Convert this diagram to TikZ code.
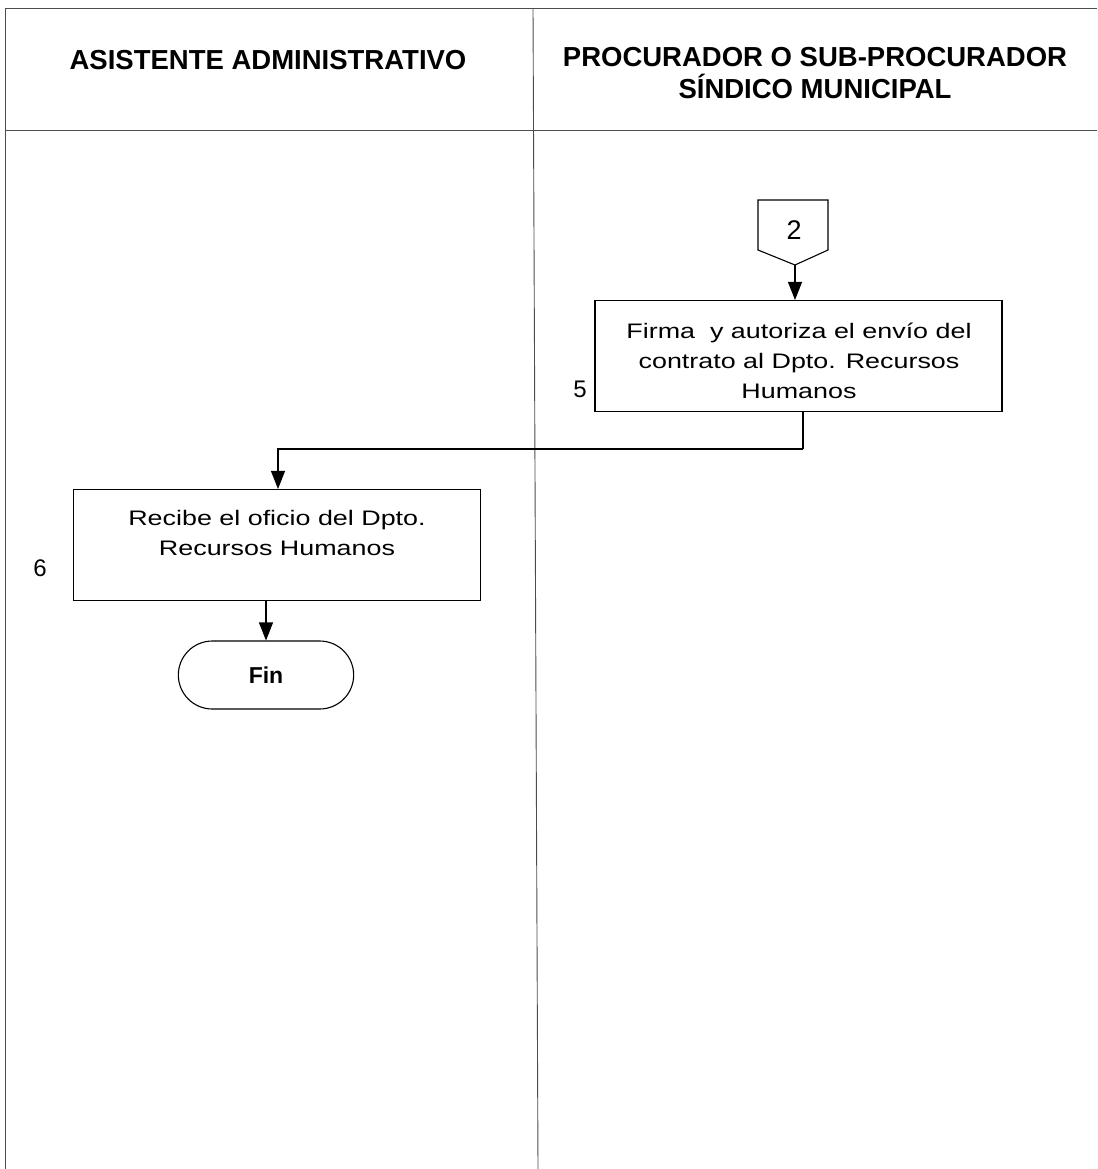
\documentclass[tikz,border=0pt]{standalone}
\usepackage{fontspec}
\usepackage{graphicx}
\setmainfont{Liberation Sans}
\usetikzlibrary{arrows.meta,shapes.misc}
\newcommand\widetext[1]{\scalebox{1.28}[1]{\begin{tabular}{@{}c@{}}#1\end{tabular}}}
\begin{document}
\begin{tikzpicture}[x=1pt,y=-1pt,
  frame/.style={draw=black!70,line width=0.9pt},
  proc/.style={draw,line width=1.1pt,minimum width=407pt,minimum height=111pt,align=center,font=\fontsize{21}{30}\selectfont,inner sep=0pt},
  lbl/.style={font=\fontsize{24}{26}\selectfont},
  hdr/.style={font=\fontsize{27.5}{32}\selectfont\bfseries,align=center},
  arr/.style={line width=1.1pt,-{Triangle[length=18pt,width=14pt]}},
  ln/.style={line width=1.1pt}]
\useasboundingbox (0,0) rectangle (1097,1169);
% frame
\draw[frame] (5,8) -- (1097,8);
\draw[frame] (5,8) -- (5,1169);
\draw[frame] (5,130) -- (1097,130);
\draw[frame] (533,8) -- (538,1169);
% headers
\node[hdr] (h1) at (268,60) {ASISTENTE ADMINISTRATIVO};
\node[hdr] (h2) at (815,73) {PROCURADOR O SUB-PROCURADOR\\SÍNDICO MUNICIPAL};
% off-page connector 2
\draw[line width=1.1pt] (758,200) -- (828,200) -- (828,250) -- (795,265) -- (758,250) -- cycle;
\coordinate (c2) at (795,265);
\node[font=\fontsize{27}{28}\selectfont] (t2) at (794,230) {2};
% box 5
\node[proc] (b5) at (798.5,356) {};
\node[font=\fontsize{21}{30}\selectfont] (t5) at (799,362) {\widetext{Firma\ \ y autoriza el envío del\\contrato al Dpto. Recursos\\Humanos}};
\node[lbl] (n5) at (580,389) {5};
\draw[arr] (c2) -- (b5.north -| c2);
% box 6
\node[proc] (b6) at (277,545) {};
\node[font=\fontsize{21}{30}\selectfont] (t6) at (277,534) {\widetext{Recibe el oficio del Dpto.\\Recursos Humanos}};
\node[lbl] (n6) at (40,568) {6};
\coordinate (j1) at (803,449);
\draw[ln] (b5.south -| j1) -- (j1);
\draw[arr] (j1) -- (278,449) -- (b6.north -| 278,0);
% Fin
\node[draw,line width=1.1pt,rounded rectangle,minimum width=182pt,minimum height=68pt,font=\fontsize{23}{24}\selectfont\bfseries] (fin) at (266,675) {Fin};
\draw[arr] (b6.south -| fin) -- (fin.north);
\end{tikzpicture}
\end{document}
